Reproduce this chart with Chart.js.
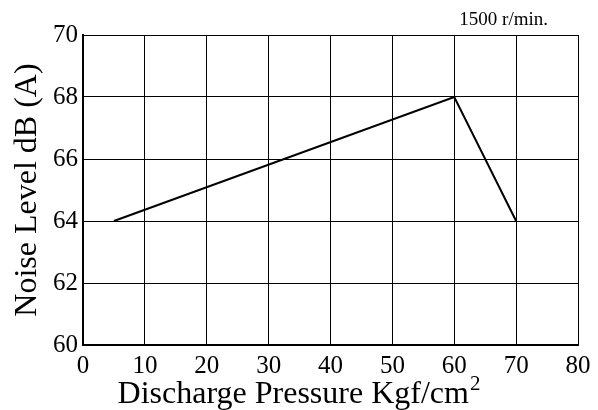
<!DOCTYPE html>
<html>
<head>
<meta charset="utf-8">
<script src="https://cdn.jsdelivr.net/npm/chart.js@4"></script>
<style>
  html, body { margin: 0; padding: 0; background: #fff; }
  #wrap { width: 598px; height: 410px; }
</style>
</head>
<body>
<div id="wrap"><canvas id="noiseCanvas"></canvas></div>
<script>
// values
var pressure = [5, 60, 70];
var noise = [64, 68, 64];
var xTicks = [0, 10, 20, 30, 40, 50, 60, 70, 80];
var yTicks = [60, 62, 64, 66, 68, 70];
var speedLabel = '1500 r/min.';
var xTitle = 'Discharge Pressure Kgf/cm';
var xTitleSup = '2';
var yTitle = 'Noise Level dB (A)';

var serif = "'Liberation Serif', 'Times New Roman', serif";

// speed note + x axis title (needs a real superscript, so drawn by hand)
var extraText = {
  id: 'extraText',
  afterDraw: function (chart) {
    var ctx = chart.ctx;
    ctx.save();
    ctx.fillStyle = '#000';

    ctx.font = '19px ' + serif;
    ctx.textAlign = 'right';
    ctx.textBaseline = 'middle';
    ctx.fillText(speedLabel, chart.chartArea.right - 30, 20);

    ctx.textAlign = 'left';
    ctx.textBaseline = 'alphabetic';
    ctx.font = '32px ' + serif;
    var w1 = ctx.measureText(xTitle).width;
    ctx.font = '21px ' + serif;
    var w2 = ctx.measureText(xTitleSup).width;
    var x0 = chart.width / 2 - (w1 + w2 + 1) / 2;
    var base = chart.height - 7;
    ctx.font = '32px ' + serif;
    ctx.fillText(xTitle, x0, base);
    ctx.font = '21px ' + serif;
    ctx.fillText(xTitleSup, x0 + w1 + 1, base - 13);
    ctx.restore();
  }
};

new Chart(
  document.getElementById('noiseCanvas'),
  {
    type: 'line',
    data: {
      datasets: [
        {
          data: pressure.map((p, i) => ({ x: p, y: noise[i] })),
          borderColor: '#000',
          borderWidth: 2,
          pointRadius: 0,
          tension: 0,
        }
      ]
    },
    options: {
      responsive: true,
      maintainAspectRatio: false,
      animation: false,
      layout: { padding: { top: 35, right: 20, left: 0, bottom: 0 } },
      plugins: {
        legend: { display: false },
        tooltip: { enabled: false },
      },
      scales: {
        x: {
          type: 'linear',
          min: 0,
          max: 80,
          afterBuildTicks: axis => { axis.ticks = xTicks.map(v => ({ value: v })); },
          afterFit: axis => { axis.height = 65; },
          grid: { color: '#000', lineWidth: 1, drawTicks: false },
          border: { color: '#000', width: 2 },
          ticks: { color: '#000', padding: 6, font: { family: serif, size: 25 } },
          title: { display: false }
        },
        y: {
          min: 60,
          max: 70,
          afterBuildTicks: axis => { axis.ticks = yTicks.map(v => ({ value: v })); },
          afterFit: axis => { axis.width = 83; },
          grid: { color: '#000', lineWidth: 1, drawTicks: false },
          border: { color: '#000', width: 2 },
          ticks: { color: '#000', padding: 5, font: { family: serif, size: 25 } },
          title: {
            display: true,
            text: yTitle,
            color: '#000',
            font: { family: serif, size: 32 },
            padding: { top: 8, bottom: 0 },
          }
        }
      }
    },
    plugins: [extraText]
  }
);
</script>
</body>
</html>
